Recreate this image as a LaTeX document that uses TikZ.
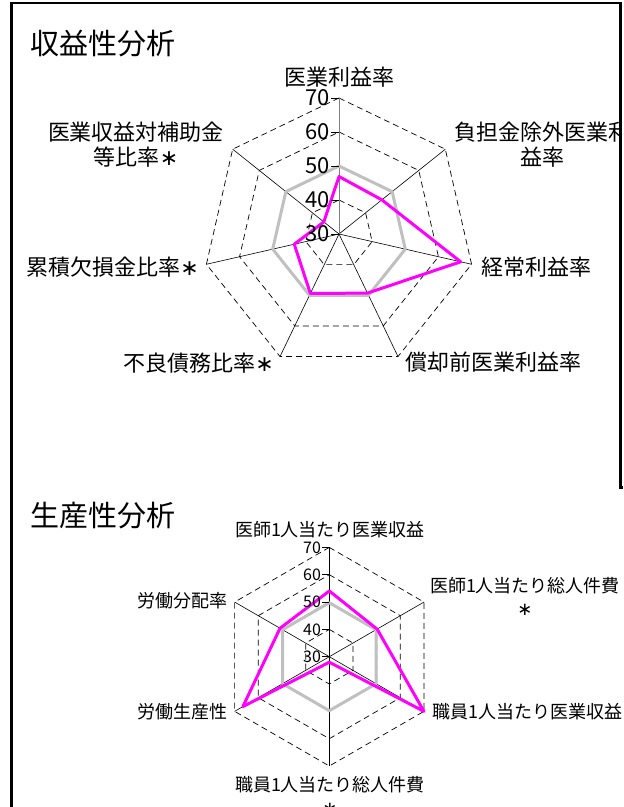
\documentclass[tikz,border=0pt]{standalone}
\usepackage{fontspec}
\setmainfont{Noto Sans CJK JP}
\newfontfamily\astfont{DejaVu Sans}
\newcommand{\mystar}{{\astfont ∗}}
\definecolor{ownpink}{RGB}{255,0,255}
\definecolor{avggray}{RGB}{192,192,192}

\begin{document}
\begin{tikzpicture}[x=1pt,y=-1pt,
  grid/.style={dash pattern=on 6pt off 4pt,line width=.7pt},
  spoke/.style={line width=.6pt},
  avg/.style={draw=avggray,line width=3pt,line join=round},
  own/.style={draw=ownpink,line width=3pt,line join=round},
  big/.style={inner sep=0pt,align=center,font=\fontsize{22}{25}\selectfont},
  small/.style={inner sep=0pt,align=center,font=\fontsize{18}{23}\selectfont},
  num1/.style={left,inner sep=1pt,font=\fontsize{22}{22}\selectfont},
  num2/.style={left,inner sep=1pt,font=\fontsize{16}{16}\selectfont},
  title/.style={anchor=west,inner sep=0pt,font=\fontsize{29}{29}\selectfont}]
\useasboundingbox (0,0) rectangle (624,807);

% frame
\draw[line width=2.5pt] (11.5,807) -- (11.5,3) -- (620.5,3) -- (620.5,487.5) -- (623,487.5);

% 収益性
\node[title] (t1) at (30,44) {収益性分析};
\begin{scope}
\clip (13,4) rectangle (619,487);
\begin{scope}[shift={(339,234)}]
\coordinate (c1) at (0,0);
\draw[grid] (90:34pt) -- (38.57:34pt) -- (-12.86:34pt) -- (-64.29:34pt) -- (-115.71:34pt) -- (-167.14:34pt) -- (141.43:34pt) -- cycle;
\draw[grid] (90:68pt) -- (38.57:68pt) -- (-12.86:68pt) -- (-64.29:68pt) -- (-115.71:68pt) -- (-167.14:68pt) -- (141.43:68pt) -- cycle;
\draw[grid] (90:102pt) -- (38.57:102pt) -- (-12.86:102pt) -- (-64.29:102pt) -- (-115.71:102pt) -- (-167.14:102pt) -- (141.43:102pt) -- cycle;
\draw[grid] (90:136pt) -- (38.57:136pt) -- (-12.86:136pt) -- (-64.29:136pt) -- (-115.71:136pt) -- (-167.14:136pt) -- (141.43:136pt) -- cycle;
\draw[spoke] (c1) -- (38.57:136pt);
\draw[spoke] (c1) -- (-12.86:136pt);
\draw[spoke] (c1) -- (-64.29:136pt);
\draw[spoke] (c1) -- (-115.71:136pt);
\draw[spoke] (c1) -- (-167.14:136pt);
\draw[spoke] (c1) -- (141.43:136pt);
\draw[spoke,draw=gray] (c1) -- (90:136pt);
\draw[avg] (90:68pt) -- (38.57:68pt) -- (-12.86:68pt) -- (-64.29:68pt) -- (-115.71:68pt) -- (-167.14:68pt) -- (141.43:68pt) -- cycle;
\draw[own] (90:57.5pt) -- (38.57:54.8pt) -- (-12.86:124.8pt) -- (-64.29:65.6pt) -- (-115.71:66pt) -- (-167.14:45.9pt) -- (141.43:19.4pt) -- cycle;
% ticks
\draw[spoke] (90:136pt) -- ++(-8pt,0) node[num1] {70};
\draw[spoke] (90:102pt) -- ++(-8pt,0) node[num1] {60};
\draw[spoke] (90:68pt) -- ++(-8pt,0) node[num1] {50};
\draw[spoke] (90:34pt) -- ++(-8pt,0) node[num1] {40};
\draw[spoke] (c1) -- ++(-8pt,0) node[num1] {30};
\end{scope}
\node[big] (k1) at (339,77) {医業利益率};
\node[big] (k2) at (542,145) {負担金除外医業利\\益率};
\node[big,anchor=west] (k3) at (481,267) {経常利益率};
\node[big,anchor=west] (k4) at (405,362) {償却前医業利益率};
\node[big,anchor=east] (k5) at (274,363) {不良債務比率\mystar};
\node[big,anchor=east] (k6) at (199,267) {累積欠損金比率\mystar};
\node[big] (k7) at (136,145) {医業収益対補助金\\等比率\mystar};
\end{scope}

% 生産性
\node[title] (t2) at (30,516) {生産性分析};
\begin{scope}[shift={(329.3,656.7)}]
\coordinate (c2) at (0,0);
\draw[grid] (90:27.3pt) -- (30:27.3pt) -- (-30:27.3pt) -- (-90:27.3pt) -- (-150:27.3pt) -- (150:27.3pt) -- cycle;
\draw[grid] (90:54.7pt) -- (30:54.7pt) -- (-30:54.7pt) -- (-90:54.7pt) -- (-150:54.7pt) -- (150:54.7pt) -- cycle;
\draw[grid] (90:82pt) -- (30:82pt) -- (-30:82pt) -- (-90:82pt) -- (-150:82pt) -- (150:82pt) -- cycle;
\draw[grid] (90:109.3pt) -- (30:109.3pt) -- (-30:109.3pt) -- (-90:109.3pt) -- (-150:109.3pt) -- (150:109.3pt) -- cycle;
\draw[spoke] (c2) -- (90:109.3pt);
\draw[spoke] (c2) -- (30:109.3pt);
\draw[spoke] (c2) -- (-30:109.3pt);
\draw[spoke] (c2) -- (-90:109.3pt);
\draw[spoke] (c2) -- (-150:109.3pt);
\draw[spoke] (c2) -- (150:109.3pt);
\draw[avg] (90:54pt) -- (30:54pt) -- (-30:54pt) -- (-90:54pt) -- (-150:54pt) -- (150:54pt) -- cycle;
\draw[own] (90:65.7pt) -- (30:55.2pt) -- (-30:109.3pt) -- (-90:5.5pt) -- (-150:99.8pt) -- (150:56.9pt) -- cycle;
% ticks
\draw[spoke] (90:109.3pt) -- ++(-7pt,0) node[num2] {70};
\draw[spoke] (90:82pt) -- ++(-7pt,0) node[num2] {60};
\draw[spoke] (90:54.7pt) -- ++(-7pt,0) node[num2] {50};
\draw[spoke] (90:27.3pt) -- ++(-7pt,0) node[num2] {40};
\draw[spoke] (c2) -- ++(-7pt,0) node[num2] {30};
\end{scope}
\node[small] (m1) at (330,530) {医師1人当たり医業収益};
\node[small] (m2) at (525,596) {医師1人当たり総人件費\\\mystar};
\node[small,anchor=west] (m3) at (432,712) {職員1人当たり医業収益};
\node[small] (m4) at (330,795) {職員1人当たり総人件費\\\mystar};
\node[small,anchor=east] (m5) at (228,712) {労働生産性};
\node[small,anchor=east] (m6) at (228,601) {労働分配率};
\end{tikzpicture}
\end{document}
